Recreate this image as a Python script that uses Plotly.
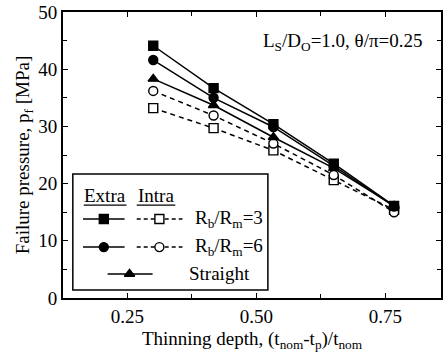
import plotly.graph_objects as go

depth = [0.300, 0.417, 0.533, 0.650, 0.767]
extra_rb3 = [44.1, 36.7, 30.4, 23.5, 16.1]
extra_rb6 = [41.6, 35.0, 29.9, 23.1, 16.0]
straight = [38.3, 33.7, 28.1, 22.7, 16.1]
intra_rb6 = [36.2, 31.9, 27.0, 21.5, 15.0]
intra_rb3 = [33.2, 29.7, 25.8, 20.6, 15.4]

FONT = "Liberation Serif"
DASH = "5px,4px"
fig = go.Figure()

def add(y, sym, fill, dash):
    fig.add_trace(go.Scatter(x=depth, y=y, mode="lines+markers",
                             line=dict(color="black", width=1.5, dash=dash),
                             marker=dict(symbol=sym, size=9, color=fill,
                                         line=dict(color="black", width=1.4)),
                             showlegend=False))

add(intra_rb3, "square", "white", DASH)
add(intra_rb6, "circle", "white", DASH)
add(straight, "triangle-up", "black", "solid")
add(extra_rb6, "circle", "black", "solid")
add(extra_rb3, "square", "black", "solid")

# legend drawn on an overlay axis spanning the plot area
def leg_line(x0, x1, xm, y, sym, fill, dash):
    fig.add_trace(go.Scatter(x=[x0, x1], y=[y, y], mode="lines",
                             xaxis="x2", yaxis="y2",
                             line=dict(color="black", width=1.5, dash=dash),
                             showlegend=False, hoverinfo="skip"))
    fig.add_trace(go.Scatter(x=[xm], y=[y], mode="markers",
                             xaxis="x2", yaxis="y2",
                             marker=dict(symbol=sym, size=9, color=fill,
                                         line=dict(color="black", width=1.4)),
                             showlegend=False, hoverinfo="skip"))

leg_line(0.053, 0.163, 0.108, 0.276, "square", "black", "solid")
leg_line(0.195, 0.316, 0.255, 0.276, "square", "white", "4px,3px")
leg_line(0.053, 0.163, 0.108, 0.178, "circle", "black", "solid")
leg_line(0.195, 0.316, 0.255, 0.178, "circle", "white", "4px,3px")
leg_line(0.118, 0.237, 0.176, 0.084, "triangle-up", "black", "solid")

shapes = [
    dict(type="rect", xref="x2", yref="y2", x0=0.026, x1=0.542, y0=0.028, y1=0.434,
         line=dict(color="black", width=1.5), fillcolor="white", layer="below"),
    dict(type="line", xref="x2", yref="y2", x0=0.055, x1=0.168, y0=0.325, y1=0.325,
         line=dict(color="black", width=1.2)),
    dict(type="line", xref="x2", yref="y2", x0=0.195, x1=0.297, y0=0.325, y1=0.325,
         line=dict(color="black", width=1.2)),
]

tf = dict(family=FONT, size=19, color="black")
annotations = [
    dict(xref="x2", yref="y2", x=0.111, y=0.36, text="Extra", showarrow=False, font=tf),
    dict(xref="x2", yref="y2", x=0.245, y=0.36, text="Intra", showarrow=False, font=tf),
    dict(xref="x2", yref="y2", x=0.345, y=0.276, xanchor="left", text="R<sub>b</sub>/R<sub>m</sub>=3", showarrow=False, font=tf),
    dict(xref="x2", yref="y2", x=0.345, y=0.178, xanchor="left", text="R<sub>b</sub>/R<sub>m</sub>=6", showarrow=False, font=tf),
    dict(xref="x2", yref="y2", x=0.329, y=0.084, xanchor="left", text="Straight", showarrow=False, font=tf),
    dict(xref="x2", yref="y2", x=0.74, y=0.895, text="L<sub>S</sub>/D<sub>O</sub>=1.0, θ/π=0.25", showarrow=False, font=tf),
]

fig.update_layout(
    width=444, height=361,
    margin=dict(l=63, r=1, t=12, b=63),
    plot_bgcolor="white", paper_bgcolor="white",
    font=tf,
    shapes=shapes, annotations=annotations,
    xaxis=dict(range=[0.125, 0.858], tickvals=[0.25, 0.5, 0.75], ticktext=["0.25", "0.50", "0.75"],
               ticks="inside", ticklen=5, tickwidth=1.3, tickcolor="black",
               minor=dict(dtick=0.125, tick0=0.125, ticks="inside", ticklen=4, tickwidth=1.3, tickcolor="black"),
               showline=True, linecolor="black", linewidth=2, mirror="allticks",
               showgrid=False, zeroline=False,
               title=dict(text="Thinning depth, (t<sub>nom</sub>-t<sub>p</sub>)/t<sub>nom</sub>", font=tf, standoff=6)),
    yaxis=dict(range=[0, 50], dtick=10, ticks="inside", ticklen=5, tickwidth=1.3, tickcolor="black",
               minor=dict(dtick=5, ticks="inside", ticklen=4, tickwidth=1.3, tickcolor="black"),
               showline=True, linecolor="black", linewidth=2, mirror="allticks",
               showgrid=False, zeroline=False,
               title=dict(text="Failure pressure, p<sub>f</sub> [MPa]", font=tf, standoff=4)),
    xaxis2=dict(range=[0, 1], overlaying="x", visible=False, fixedrange=True),
    yaxis2=dict(range=[0, 1], overlaying="y", visible=False, fixedrange=True),
)

fig.write_html("out.html")
